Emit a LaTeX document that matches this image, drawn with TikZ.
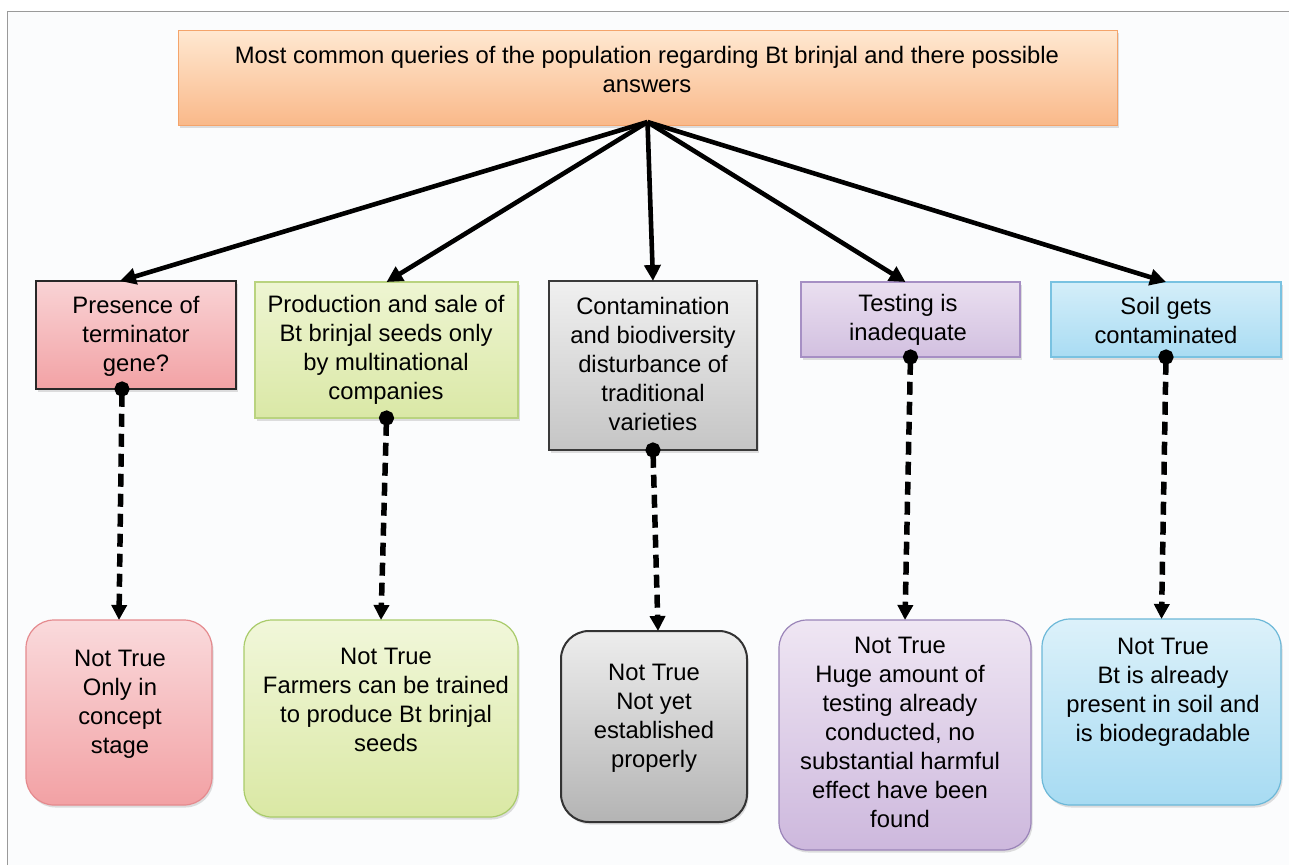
\documentclass[tikz,border=0pt]{standalone}
\usepackage{fontspec}
\setmainfont{Liberation Sans}
\usetikzlibrary{arrows.meta,shadows,calc}
\definecolor{pagebg}{HTML}{FBFCFD}
\definecolor{framegray}{HTML}{9A9A9A}
\tikzset{
  box/.style={rectangle, inner sep=0pt, outer sep=0pt,
    drop shadow={shadow xshift=1.5pt, shadow yshift=-2.5pt, opacity=0.25}},
  rbox/.style={box, rounded corners=28pt},
  txt/.style={inner sep=0pt, align=center, font=\fontsize{23.8}{29}\selectfont},
  mainarrow/.style={line width=4.6pt, -{Triangle[length=16pt,width=16pt]}},
  dasharrow/.style={line width=5.5pt, dash pattern=on 13pt off 7pt,
    {Circle[length=15pt]}-{Triangle[length=15pt,width=15pt]}, shorten <=-7.5pt},
}
\begin{document}
\begin{tikzpicture}[x=1pt,y=-1pt]
\useasboundingbox (0,0) rectangle (1289,865);
\fill[white] (0,0) rectangle (1289,865);
\fill[pagebg] (7,11) rectangle (1289,865);
\draw[framegray, line width=1pt] (7,865) -- (7,11) -- (1289,11);

% top box
\node[box, minimum width=939pt, minimum height=95pt, top color=orange!18!white, bottom color={rgb,255:red,249;green,185;blue,138}, draw={rgb,255:red,244;green,164;blue,107}, line width=1pt] (top) at (647.5,77.5) {};
\node[txt] (toptxt) at (647,69) {Most common queries of the population regarding Bt brinjal and there possible\\answers};

% middle row
\node[box, minimum width=200pt, minimum height=108pt, top color={rgb,255:red,249;green,211;blue,213}, bottom color={rgb,255:red,242;green,162;blue,165}, draw={rgb,255:red,40;green,40;blue,40}, line width=2.2pt] (m1) at (136,335) {};
\node[txt] (m1t) at (136,336) {Presence of\\terminator\\gene?};

\node[box, minimum width=263pt, minimum height=136pt, top color={rgb,255:red,238;green,245;blue,210}, bottom color={rgb,255:red,218;green,232;blue,166}, draw={rgb,255:red,185;green,211;blue,127}, line width=1.2pt] (m2) at (386.5,350) {};
\node[txt] (m2t) at (386,350) {Production and sale of\\Bt brinjal seeds only\\by multinational\\companies};

\node[box, minimum width=208pt, minimum height=169pt, top color={rgb,255:red,240;green,240;blue,240}, bottom color={rgb,255:red,197;green,197;blue,197}, draw={rgb,255:red,58;green,58;blue,58}, line width=2.2pt] (m3) at (653,365.5) {};
\node[txt] (m3t) at (653,364) {Contamination\\and biodiversity\\disturbance of\\traditional\\varieties};

\node[box, minimum width=219pt, minimum height=75pt, top color={rgb,255:red,234;green,223;blue,240}, bottom color={rgb,255:red,210;green,192;blue,224}, draw={rgb,255:red,166;green,143;blue,196}, line width=1.2pt] (m4) at (910.5,319.5) {};
\node[txt] (m4t) at (908,320) {Testing is\\inadequate};

\node[box, minimum width=230pt, minimum height=75pt, top color={rgb,255:red,212;green,238;blue,249}, bottom color={rgb,255:red,169;green,220;blue,243}, draw={rgb,255:red,121;green,194;blue,225}, line width=1.2pt] (m5) at (1166,319.5) {};
\node[txt] (m5t) at (1166,320) {Soil gets\\contaminated};

% bottom row
\node[rbox, minimum width=186pt, minimum height=185pt, top color={rgb,255:red,250;green,218;blue,220}, bottom color={rgb,255:red,242;green,161;blue,164}, draw={rgb,255:red,229;green,138;blue,142}, line width=1.2pt] (b1) at (119,712.5) {};
\node[txt] (b1t) at (120,704) {Not True\\Only in\\concept\\stage};

\node[rbox, minimum width=274pt, minimum height=197pt, top color={rgb,255:red,241;green,247;blue,218}, bottom color={rgb,255:red,218;green,232;blue,164}, draw={rgb,255:red,169;green,203;blue,106}, line width=1.2pt] (b2) at (381,718.5) {};
\node[txt] (b2t) at (386,700) {Not True\\Farmers can be trained\\to produce Bt brinjal\\seeds};

\node[rbox, minimum width=186pt, minimum height=191pt, top color={rgb,255:red,237;green,237;blue,237}, bottom color={rgb,255:red,180;green,180;blue,180}, draw={rgb,255:red,51;green,51;blue,51}, line width=2pt] (b3) at (654,726.5) {};
\node[txt] (b3t) at (654,718) {Not True\\Not yet\\established\\properly};

\node[rbox, minimum width=252pt, minimum height=230pt, top color={rgb,255:red,239;green,230;blue,243}, bottom color={rgb,255:red,205;green,184;blue,221}, draw={rgb,255:red,154;green,132;blue,184}, line width=1.2pt] (b4) at (905,735) {};
\node[txt] (b4t) at (900,732) {Not True\\Huge amount of\\testing already\\conducted, no\\substantial harmful\\effect have been\\found};

\node[rbox, minimum width=239pt, minimum height=186pt, top color={rgb,255:red,220;green,241;blue,250}, bottom color={rgb,255:red,167;green,219;blue,242}, draw={rgb,255:red,108;green,184;blue,216}, line width=1.2pt] (b5) at (1161.5,712) {};
\node[txt] (b5t) at (1163,692) {Not True\\Bt is already\\present in soil and\\is biodegradable};

% main arrows
\draw[mainarrow] ([yshift=3pt]top.south) -- ([xshift=-16pt]m1.north);
\draw[mainarrow] ([yshift=3pt]top.south) -- (m2.north);
\draw[mainarrow] ([yshift=3pt]top.south) -- (m3.north);
\draw[mainarrow] ([yshift=3pt]top.south) -- ([xshift=-5pt]m4.north);
\draw[mainarrow] ([yshift=3pt]top.south) -- (m5.north);

% dashed arrows
\draw[dasharrow] ([xshift=-14pt]m1.south) -- (b1.north);
\draw[dasharrow] (m2.south) -- (b2.north);
\draw[dasharrow] (m3.south) -- ([xshift=4pt]b3.north);
\draw[dasharrow] (m4.south) -- (b4.north);
\draw[dasharrow] (m5.south) -- (b5.north);
\end{tikzpicture}
\end{document}
